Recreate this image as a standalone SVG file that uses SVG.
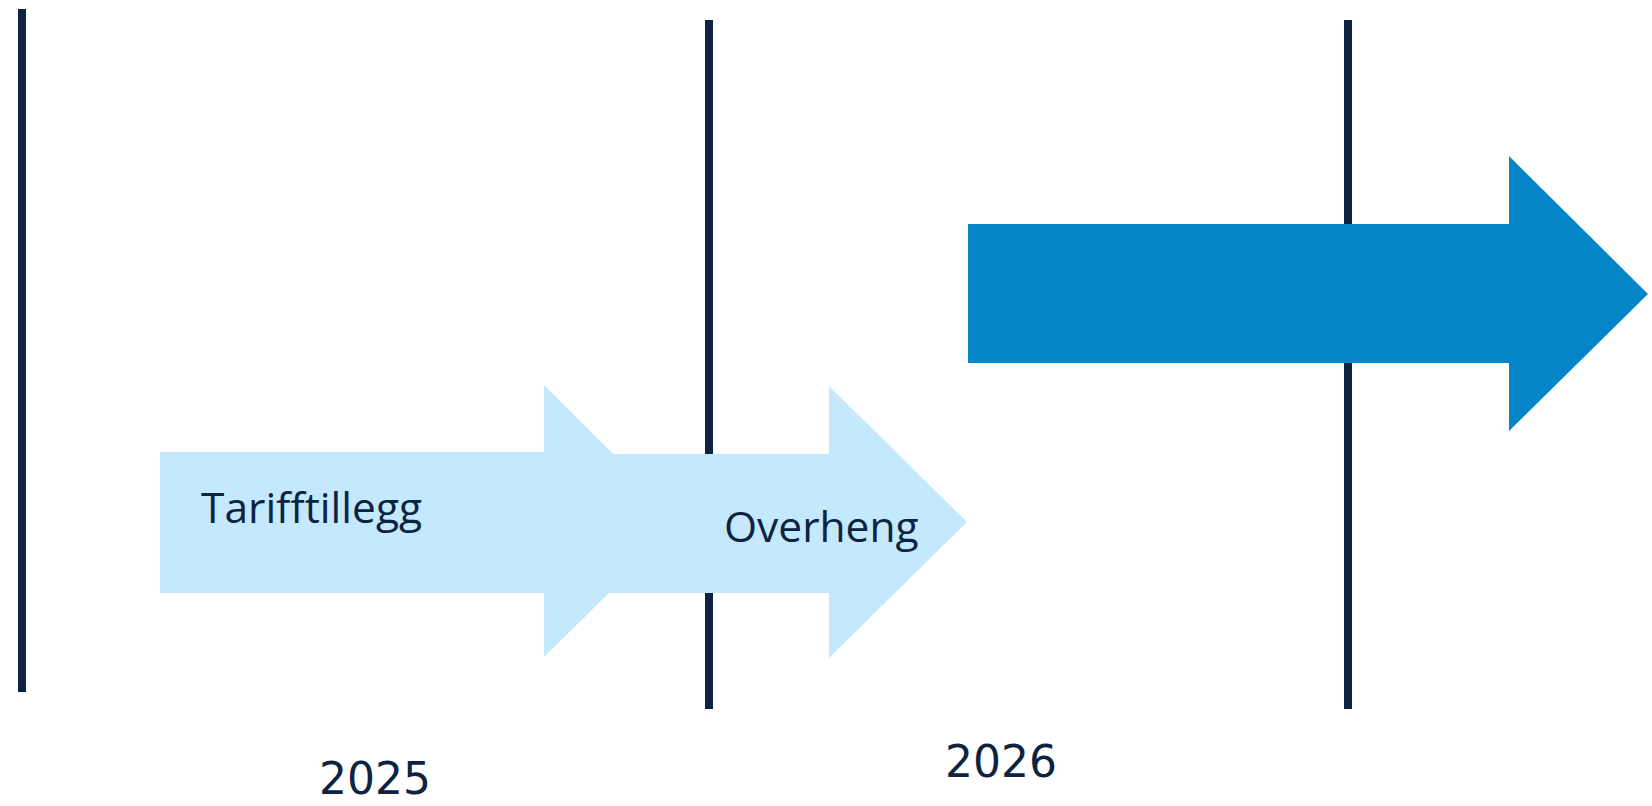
<svg xmlns="http://www.w3.org/2000/svg" width="1652" height="806" viewBox="0 0 1652 806">
  <style>
    .axis { fill: #0C2442; }
    .light { fill: #C4E9FC; }
    .dark { fill: #0385C8; }
    .lbl { font-family: "Open Sans", "Liberation Sans", sans-serif; fill: #0C2442; }
    .year { font-family: "DejaVu Sans", "Liberation Sans", sans-serif; fill: #0C2442; }
  </style>
  <rect width="1652" height="806" fill="#FFFFFF"/>
  <g id="dividers">
    <rect id="line-left" class="axis" x="18" y="9" width="8" height="683"/>
    <rect id="line-mid" class="axis" x="705" y="20" width="8" height="689"/>
    <rect id="line-right" class="axis" x="1344" y="20" width="8" height="689"/>
  </g>
  <g id="connectors">
    <polygon id="arrow-overheng" class="light" points="590,454 829,454 829,386 967,522 829,658 829,593 590,593"/>
    <polygon id="arrow-tarifftillegg" class="light" points="160,452 544,452 544,385 681,522 544,657 544,593 160,593"/>
    <polygon id="arrow-2026" class="dark" points="968,224 1509,224 1509,156 1648,294 1509,431 1509,363 968,363"/>
  </g>
  <g id="node-tarifftillegg">
    <text class="lbl" x="201" y="523" font-size="42.5">Tarifftillegg</text>
  </g>
  <g id="node-overheng">
    <text class="lbl" x="724" y="542" font-size="42.5">Overheng</text>
  </g>
  <g id="node-2025">
    <text class="year" x="375" y="794" font-size="44" text-anchor="middle">2025</text>
  </g>
  <g id="node-2026">
    <text class="year" x="1001" y="777" font-size="44" text-anchor="middle">2026</text>
  </g>
</svg>
